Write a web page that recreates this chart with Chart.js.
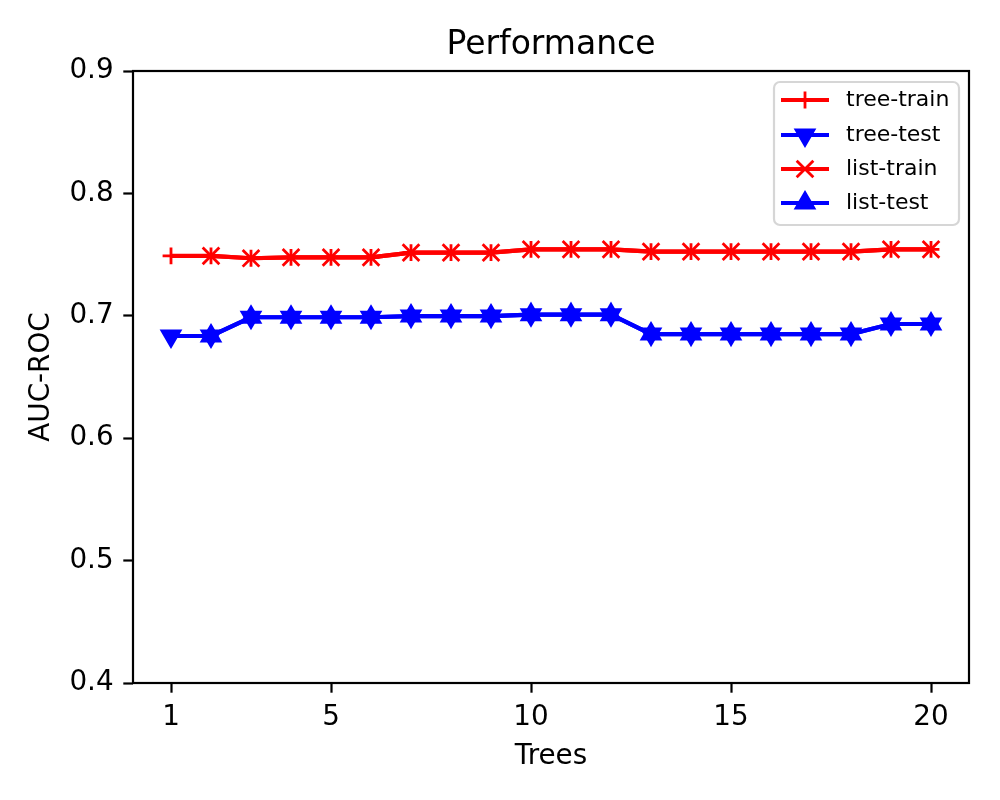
<!DOCTYPE html>
<html>
<head>
<meta charset="utf-8">
<script src="https://cdn.jsdelivr.net/npm/chart.js@4"></script>
<style>
  html, body { margin: 0; padding: 0; background: #fff; }
  #chart { display: block; }
</style>
</head>
<body>
<canvas id="chart" width="1000" height="800"></canvas>
<script>
// values
const trees = [1, 2, 3, 4, 5, 6, 7, 8, 9, 10, 11, 12, 13, 14, 15, 16, 17, 18, 19, 20];
const treeTrain = [0.7489, 0.7489, 0.7470, 0.7478, 0.7478, 0.7478, 0.7516, 0.7516, 0.7516, 0.7543,
                   0.7543, 0.7543, 0.7524, 0.7524, 0.7524, 0.7524, 0.7524, 0.7524, 0.7543, 0.7543];
const treeTest = [0.6835, 0.6835, 0.6988, 0.6988, 0.6988, 0.6988, 0.6998, 0.6998, 0.6998, 0.7009,
                  0.7009, 0.7009, 0.6851, 0.6851, 0.6851, 0.6851, 0.6851, 0.6851, 0.6933, 0.6933];
// list series start at 2 trees
const listTrees = [2, 3, 4, 5, 6, 7, 8, 9, 10, 11, 12, 13, 14, 15, 16, 17, 18, 19, 20];
const listTrain = [0.7489, 0.7470, 0.7478, 0.7478, 0.7478, 0.7516, 0.7516, 0.7516, 0.7543,
                   0.7543, 0.7543, 0.7524, 0.7524, 0.7524, 0.7524, 0.7524, 0.7524, 0.7543, 0.7543];
const listTest = [0.6835, 0.6988, 0.6988, 0.6988, 0.6988, 0.6998, 0.6998, 0.6998, 0.7009,
                  0.7009, 0.7009, 0.6851, 0.6851, 0.6851, 0.6851, 0.6851, 0.6851, 0.6933, 0.6933];
const xTicks = [1, 5, 10, 15, 20];
const yTicks = [0.4, 0.5, 0.6, 0.7, 0.8, 0.9];

const RED = "#ff0000";
const BLUE = "#0000ff";
const FONT = "'DejaVu Sans', sans-serif";

function points(xs, ys) {
  return xs.map((x, i) => ({x: x, y: ys[i]}));
}

function series(label, xs, ys, color, style, radius, rotation, order) {
  return {
    label: label,
    data: points(xs, ys),
    borderColor: color,
    backgroundColor: color,
    borderWidth: 4.2,
    tension: 0,
    pointStyle: style,
    pointRadius: radius,
    pointHoverRadius: radius,
    pointRotation: rotation,
    pointBorderColor: color,
    pointBackgroundColor: color,
    pointBorderWidth: 2.8,
    order: order
  };
}

// box around the plot and the legend in the upper right corner
const framePlugin = {
  id: "frame",
  afterDraw(chart) {
    const ctx = chart.ctx;
    const a = chart.chartArea;
    ctx.save();
    ctx.strokeStyle = "#000";
    ctx.lineWidth = 2.2;
    ctx.strokeRect(a.left, a.top, a.right - a.left, a.bottom - a.top);

    // legend
    const bx = 774, by = 82, bw = 185, bh = 143;
    ctx.beginPath();
    ctx.roundRect(bx, by, bw, bh, 6);
    ctx.fillStyle = "rgba(255,255,255,0.8)";
    ctx.fill();
    ctx.strokeStyle = "#d6d6d6";
    ctx.lineWidth = 2.2;
    ctx.stroke();

    const rowY = [100, 135, 169, 203];
    chart.data.datasets.forEach((ds, i) => {
      const y = rowY[i];
      ctx.strokeStyle = ds.borderColor;
      ctx.lineWidth = ds.borderWidth;
      ctx.beginPath();
      ctx.moveTo(781, y);
      ctx.lineTo(829, y);
      ctx.stroke();
      ctx.fillStyle = ds.pointBackgroundColor;
      ctx.strokeStyle = ds.pointBorderColor;
      ctx.lineWidth = ds.pointBorderWidth;
      Chart.helpers.drawPoint(ctx, {
        pointStyle: ds.pointStyle,
        rotation: ds.pointRotation,
        radius: ds.pointRadius,
        borderWidth: ds.pointBorderWidth
      }, 805, y);
      ctx.fillStyle = "#000";
      ctx.font = "22px " + FONT;
      ctx.textBaseline = "middle";
      ctx.textAlign = "left";
      ctx.fillText(ds.label, 846, y);
    });
    ctx.restore();
  }
};

new Chart(document.getElementById("chart"), {
  type: "line",
  data: {
    datasets: [
      series("tree-train", trees, treeTrain, RED, "cross", 8.4, 0, 3),
      series("tree-test", trees, treeTest, BLUE, "triangle", 10.3, 180, 2),
      series("list-train", listTrees, listTrain, RED, "crossRot", 11.8, 0, 1),
      series("list-test", listTrees, listTest, BLUE, "triangle", 10.3, 0, 0)
    ]
  },
  options: {
    responsive: false,
    devicePixelRatio: 1,
    animation: false,
    layout: { padding: { left: 0, right: 31, top: 0, bottom: 0 } },
    plugins: {
      legend: { display: false },
      tooltip: { enabled: false },
      title: {
        display: true,
        fullSize: false,
        text: "Performance",
        color: "#000",
        font: { family: FONT, size: 33, weight: "normal" },
        padding: { top: 26, bottom: 5.4 }
      }
    },
    scales: {
      x: {
        type: "linear",
        min: 0.05,
        max: 20.95,
        afterBuildTicks: (scale) => { scale.ticks = xTicks.map(v => ({value: v})); },
        afterFit: (scale) => { scale.height = 117; },
        grid: { display: true, drawOnChartArea: false, drawTicks: true, tickLength: 9.7, tickWidth: 2.2, tickColor: "#000", color: "#000" },
        border: { display: false },
        ticks: { color: "#000", padding: 8, font: { family: FONT, size: 27.8 }, maxRotation: 0, autoSkip: false,
                 callback: (v) => String(v) },
        title: { display: true, text: "Trees", color: "#000", font: { family: FONT, size: 27.8 }, padding: { top: 0, bottom: 27 } }
      },
      y: {
        min: 0.4,
        max: 0.9,
        afterBuildTicks: (scale) => { scale.ticks = yTicks.map(v => ({value: v})); },
        afterFit: (scale) => { scale.width = 133; },
        grid: { display: true, drawOnChartArea: false, drawTicks: true, tickLength: 9.7, tickWidth: 2.2, tickColor: "#000", color: "#000" },
        border: { display: false },
        ticks: { color: "#000", padding: 9.7, font: { family: FONT, size: 27.8 }, autoSkip: false,
                 callback: (v) => v.toFixed(1) },
        title: { display: true, text: "AUC-ROC", color: "#000", font: { family: FONT, size: 27.8 }, padding: { top: 25, bottom: 0 } }
      }
    }
  },
  plugins: [framePlugin]
});
</script>
</body>
</html>
